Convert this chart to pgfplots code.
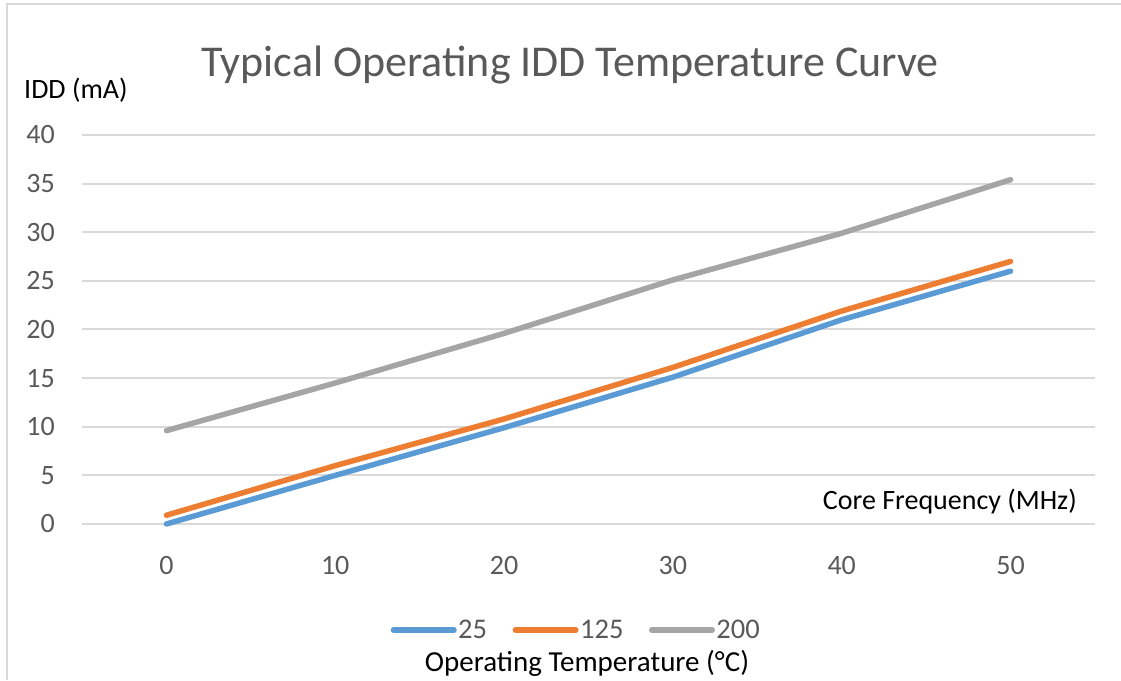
\documentclass[border=0pt]{standalone}
\usepackage{fontspec}
\setmainfont{Carlito}
\usepackage{pgfplots}
\pgfplotsset{compat=1.18}
\definecolor{s25}{HTML}{5B9BD5}
\definecolor{s125}{HTML}{ED7D31}
\definecolor{s200}{HTML}{A5A5A5}
\definecolor{gridc}{HTML}{D9D9D9}
\definecolor{txtc}{HTML}{595959}
\begin{document}
\begin{tikzpicture}[x=1pt,y=1pt]
\useasboundingbox (0,0) rectangle (1121,680);
\draw[gridc, line width=2pt] (7,0) -- (7,675.5) -- (1121,675.5);
\begin{axis}[
  at={(82pt,156pt)}, anchor=south west,
  scale only axis, width=1013pt, height=389pt,
  xmin=-0.5, xmax=5.5, ymin=0, ymax=40,
  xtick={0,...,5}, xticklabels={0,10,20,30,40,50},
  ytick={0,5,...,40},
  ymajorgrids, grid style={gridc, line width=2pt},
  axis line style={draw=none}, major tick length=0pt,
  tick label style={font=\fontsize{28}{30}\selectfont, text=txtc},
  /pgf/number format/assume math mode=true,
  yticklabel style={anchor=east, inner sep=0pt, xshift=-27pt},
  xticklabel style={anchor=north, inner sep=0pt, yshift=-32pt},
  clip=false,
  legend columns=3,
  legend style={at={(0.4877,-0.2725)}, anchor=center, draw=none, fill=none,
    font=\fontsize{28.5}{30}\selectfont, text=txtc, inner sep=0pt,
    nodes={inner sep=1.5pt},
    /tikz/every even column/.style={column sep=24pt}},
  legend image code/.code={\draw[#1, line cap=round] (2.5pt,0pt) -- (63pt,0pt);},
]
\addplot[s25, line width=5.5pt, line cap=round, line join=round]
  coordinates {(0,0) (1,5.0) (2,9.9) (3,15.1) (4,21.0) (5,26.0)};
\addplot[s125, line width=5.5pt, line cap=round, line join=round]
  coordinates {(0,0.9) (1,6.0) (2,10.8) (3,16.1) (4,21.9) (5,27.0)};
\addplot[s200, line width=5.5pt, line cap=round, line join=round]
  coordinates {(0,9.6) (1,14.5) (2,19.6) (3,25.1) (4,29.9) (5,35.4)};
\legend{25,125,200}
\end{axis}
\node[anchor=base, inner sep=0pt, text=txtc, font=\fontsize{44}{48}\selectfont] at (570,603) {Typical Operating IDD Temperature Curve};
\node[anchor=base west, inner sep=0pt, font=\fontsize{28}{30}\selectfont] at (24,581) {IDD (mA)};
\node[anchor=base east, inner sep=0pt, font=\fontsize{28}{30}\selectfont] at (1077,170) {Core Frequency (MHz)};
\node[anchor=base, inner sep=0pt, font=\fontsize{29}{30}\selectfont] at (587,9) {Operating Temperature (°C)};
\end{tikzpicture}
\end{document}
